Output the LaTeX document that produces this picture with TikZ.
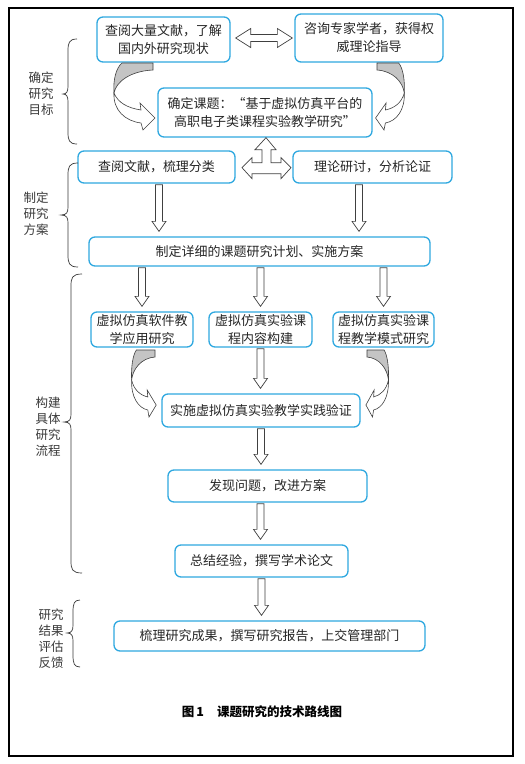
\documentclass[tikz,border=0pt]{standalone}
\usepackage{fontspec}
\setmainfont{Noto Sans CJK SC}
\usetikzlibrary{calc}
\definecolor{boxblue}{HTML}{2FA8E0}
\definecolor{txt}{HTML}{262626}
\definecolor{lblc}{HTML}{3A3A3A}
\definecolor{arr}{HTML}{404040}
\definecolor{ribbon}{HTML}{C4C4C4}
\tikzset{
  bx/.style={draw=boxblue, line width=1.3pt, rounded corners=6pt, fill=white,
    text=txt, align=center, inner sep=0pt, font=\fontsize{13}{18}\selectfont},
  lbl/.style={text=lblc, align=center, inner sep=0pt, font=\fontsize{12.5}{16}\selectfont},
  blockarrow/.style={draw=arr, line width=0.7pt, fill=white, line join=miter},
  ribbonstyle/.style={draw=arr, line width=0.6pt, fill=ribbon},
  bodystyle/.style={draw=arr, line width=0.6pt, fill=white},
  bracestyle/.style={draw=lblc, line width=0.7pt},
}
\newcommand\downblock[2]{%
  \draw[blockarrow] let \p1=(#1), \p2=(#2) in
   (\x1-3.5pt,\y1-1pt) -- (\x1-3.5pt,\y2+15pt) -- (\x1-7pt,\y2+15pt) -- (\x1,\y2+5pt)
   -- (\x1+7pt,\y2+15pt) -- (\x1+3.5pt,\y2+15pt) -- (\x1+3.5pt,\y1-1pt) -- cycle;}
\newcommand\curvarrow[1]{%
  \begin{scope}[#1]
  \filldraw[ribbonstyle] (0,0) -- (-31,0) .. controls (-37,5) and (-40,17) .. (-39,30)
     .. controls (-37,19) and (-23,8) .. (0,7) -- cycle;
  \filldraw[bodystyle] (-39,30) .. controls (-40,47) and (-28,58) .. (-12,60) -- (-10,67)
     -- (2,55) -- (-13,40) -- (-12,47) .. controls (-25,45) and (-35,40) .. (-39,30) -- cycle;
  \end{scope}}
\newcommand\leftbrace[6]{%
  \draw[bracestyle] (#1,#4) .. controls ({#2+1},{#4}) and (#2,{#4+4}) .. (#2,{#4+12})
    -- (#2,{#5-8}) .. controls (#2,{#5-3}) and ({#2-1},#5) .. (#3,#5)
    .. controls ({#2-1},#5) and (#2,{#5+3}) .. (#2,{#5+8})
    -- (#2,{#6-12}) .. controls (#2,{#6-4}) and ({#2+1},#6) .. (#1,#6);}
\begin{document}
\begin{tikzpicture}[x=1pt,y=-1pt]
\useasboundingbox (0,0) rectangle (525,764);
\fill[white] (0,0) rectangle (525,764);
\draw[line width=1.5pt] (9,8) rectangle (513,756);

% boxes
\node[bx, minimum width=133pt, minimum height=45pt] (b1) at (163.5,39.5) {查阅大量文献，了解\\国内外研究现状};
\node[bx, minimum width=148pt, minimum height=48pt] (b2) at (369,38) {咨询专家学者，获得权\\威理论指导};
\node[bx, minimum width=214pt, minimum height=49pt] (b3) at (265,112.5) {确定课题：“基于虚拟仿真平台的\\高职电子类课程实验教学研究”};
\node[bx, minimum width=157pt, minimum height=32pt] (b4) at (156.5,167) {查阅文献，梳理分类};
\node[bx, minimum width=159pt, minimum height=32pt] (b5) at (372.5,167) {理论研讨，分析论证};
\node[bx, minimum width=341pt, minimum height=29pt] (b6) at (259.5,251.5) {制定详细的课题研究计划、实施方案};
\node[bx, minimum width=102pt, minimum height=35pt] (b7) at (142,329.5) {虚拟仿真软件教\\学应用研究};
\node[bx, minimum width=103pt, minimum height=35pt] (b8) at (260.5,329.5) {虚拟仿真实验课\\程内容构建};
\node[bx, minimum width=101pt, minimum height=35pt] (b9) at (383.5,329.5) {虚拟仿真实验课\\程教学模式研究};
\node[bx, minimum width=198pt, minimum height=33pt] (b10) at (261,410.5) {实施虚拟仿真实验教学实践验证};
\node[bx, minimum width=199pt, minimum height=32pt] (b11) at (267.5,486) {发现问题，改进方案};
\node[bx, minimum width=173pt, minimum height=32pt] (b12) at (261.5,561) {总结经验，撰写学术论文};
\node[bx, minimum width=311pt, minimum height=30pt] (b13) at (269.5,636) {梳理研究成果，撰写研究报告，上交管理部门};

% left labels
\node[lbl] (L1) at (41,94) {确定\\研究\\目标};
\node[lbl] (L2) at (36,214) {制定\\研究\\方案};
\node[lbl] (L3) at (48,427) {构建\\具体\\研究\\流程};
\node[lbl] (L4) at (51,638.5) {研究\\结果\\评估\\反馈};

% braces
\leftbrace{77}{68}{63}{39}{94}{144}
\leftbrace{78}{68}{61}{163}{215}{267}
\leftbrace{82}{71}{64}{274}{422}{573}
\leftbrace{80}{73}{67}{600}{633}{667}

% horizontal double arrow b1 <-> b2
\draw[blockarrow] let \p1=(b1.east), \p2=(b2.west) in
 (\x1+5pt,\y2) -- (\x1+20pt,\y2+9.5pt) -- (\x1+20pt,\y2+3.5pt) -- (\x2-17pt,\y2+3.5pt)
 -- (\x2-17pt,\y2+9.5pt) -- (\x2-2pt,\y2) -- (\x2-17pt,\y2-9.5pt) -- (\x2-17pt,\y2-3.5pt)
 -- (\x1+20pt,\y2-3.5pt) -- (\x1+20pt,\y2-9.5pt) -- cycle;

% triple arrow under b3
\begin{scope}[shift={(b3.south)}]
\draw[blockarrow] (1,0) -- (11,12) -- (6,12) -- (6,25) -- (16,25) -- (16,20) -- (26,30)
  -- (16,41) -- (16,36) -- (-13,36) -- (-13,41) -- (-23,30) -- (-13,20) -- (-13,25)
  -- (-3,25) -- (-3,12) -- (-10,12) -- cycle;
\end{scope}

% curved arrows
\curvarrow{shift={(153,63)}}
\curvarrow{shift={(377,63)}, xscale=-0.7}
\curvarrow{shift={(155,350)}, xscale=0.6}
\curvarrow{shift={(367,350)}, xscale=-0.55}

% vertical block arrows
\downblock{$(b4.south)+(2.5,0)$}{b6.north}
\downblock{$(b5.south)+(-13.5,0)$}{b6.north}
\downblock{b7.north |- b6.south}{b7.north}
\downblock{b8.north |- b6.south}{b8.north}
\downblock{b9.north |- b6.south}{b9.north}
\downblock{b8.south}{b10.north}
\downblock{b10.south}{b11.north}
\downblock{$(b11.south)+(-7,0)$}{b12.north}
\downblock{b12.south}{b13.north}

% caption
\node[text=black, inner sep=0pt, font=\fontsize{12.5}{15}\selectfont\bfseries] (cap) at (262,712) {图\,1\hspace{13pt}课题研究的技术路线图};
\end{tikzpicture}
\end{document}
